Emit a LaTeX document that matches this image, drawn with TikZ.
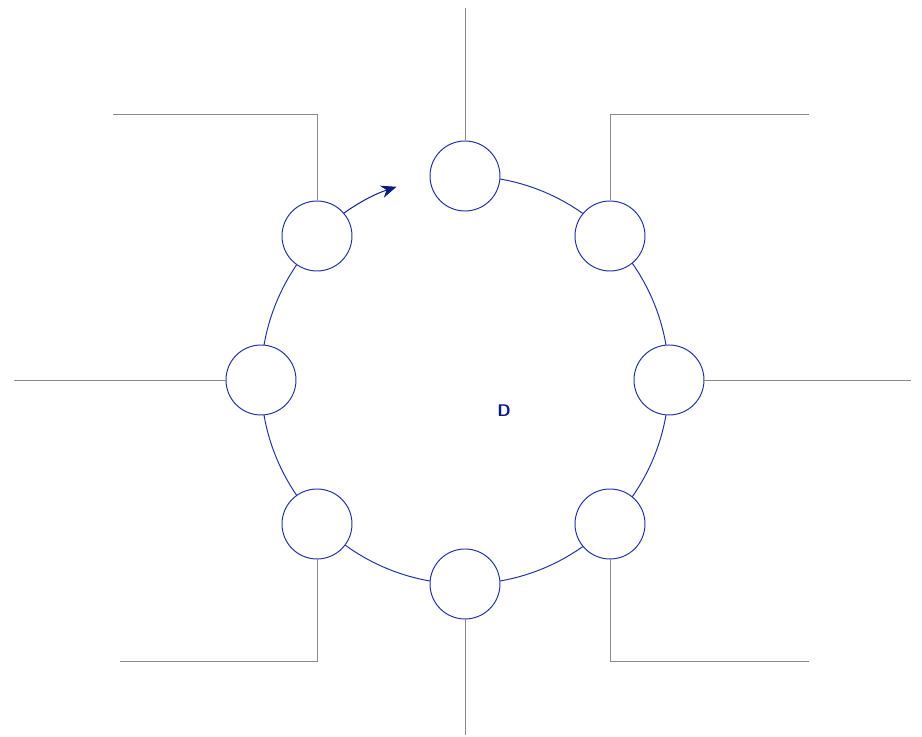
\documentclass[tikz,border=0pt]{standalone}
\usepackage{xcolor}
\usetikzlibrary{positioning,arrows.meta,calc,backgrounds}
\definecolor{cRing}{HTML}{2233A0}
\definecolor{cNavy}{HTML}{0B1A85}
\definecolor{cLead}{HTML}{8A8A8A}

\begin{document}
\begin{tikzpicture}[font=\small,
  pin/.style={circle,draw=cRing,fill=white,line width=0.7pt,
              minimum size=1.75cm,inner sep=0pt},
  ring/.style={line width=0.7pt,cRing},
  lead/.style={line width=0.7pt,cLead},
  ar/.style={-{Stealth[length=11pt,width=9pt]},line width=0.7pt,cNavy}]
\useasboundingbox (-11.625,-8.925) rectangle (11.425,9.5);

\node[pin] (top) at (0,5.1) {};
\node[pin] (tr) at (3.625,3.6) {};
\node[pin] (rt) at (5.1,0) {};
\node[pin] (br) at (3.625,-3.6) {};
\node[pin] (bot) at (0,-5.1) {};
\node[pin] (bl) at (-3.7,-3.6) {};
\node[pin] (lt) at (-5.1,0) {};
\node[pin] (tl) at (-3.7,3.6) {};
\node[text=cNavy,font=\sffamily\bfseries\large] (mark) at (0.975,-0.775) {D};

% ring between the pins
\begin{scope}[on background layer]
\draw[ring] (top.center) arc[start angle=90,end angle=-225,radius=5.1];
\draw[ar] (tl.center) arc[start angle=135,end angle=108.5,radius=5.1];
\end{scope}

% leads
\coordinate (eTop) at (0,9.3);
\coordinate (eBot) at (0,-8.875);
\coordinate (eLt) at (-11.275,0);
\coordinate (eRt) at (11.15,0);
\coordinate (eTl) at (-8.8,6.625);
\coordinate (eTr) at (8.6,6.625);
\coordinate (eBl) at (-8.625,-7.025);
\coordinate (eBr) at (8.6,-7.025);
\draw[lead] (top) -- (eTop);
\draw[lead] (bot) -- (eBot);
\draw[lead] (lt) -- (eLt);
\draw[lead] (rt) -- (eRt);
\draw[lead] (tl) |- (eTl);
\draw[lead] (tr) |- (eTr);
\draw[lead] (bl) |- (eBl);
\draw[lead] (br) |- (eBr);
\end{tikzpicture}
\end{document}
